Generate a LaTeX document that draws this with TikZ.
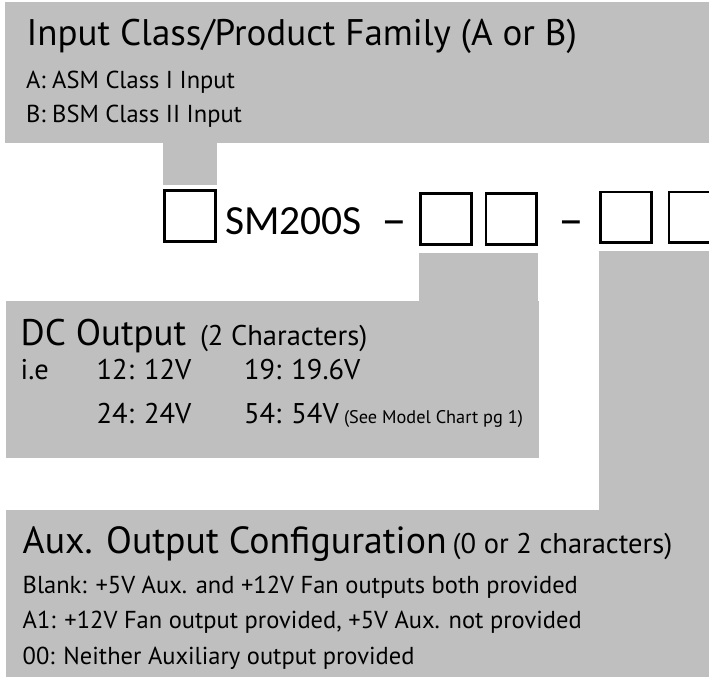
\documentclass[tikz,border=0pt]{standalone}
\usepackage{fontspec}
\setmainfont{PT Sans}
\newfontfamily\codefont{Carlito}
\definecolor{panelgray}{HTML}{BFBFBF}
\tikzset{
  panel/.style={fill=panelgray, draw=none, inner sep=0pt, outer sep=0pt, anchor=north west},
  codebox/.style={draw=black, line width=2.7pt, fill=white, minimum width=50.7pt, minimum height=50.7pt, inner sep=0pt, outer sep=0pt},
  txt/.style={anchor=base west, inner sep=0pt, outer sep=0pt},
  bigtxt/.style={txt, font=\fontsize{37}{40}\selectfont},
  midtxt/.style={txt, font=\fontsize{28.5}{30}\selectfont},
  subtxt/.style={txt, font=\fontsize{24.5}{28}\selectfont},
  smalltxt/.style={txt, font=\fontsize{18.3}{20}\selectfont},
  codetxt/.style={txt, font=\codefont\fontsize{41.5}{44}\selectfont},
  dashtxt/.style={txt, font=\fontsize{42}{44}\selectfont},
}
\begin{document}
\begin{tikzpicture}[x=1pt,y=-1pt]
\useasboundingbox (0,0) rectangle (709,677);
\clip (0,0) rectangle (709,677);
% panels
\node[panel, minimum width=704pt, minimum height=141pt] (top) at (5,1.7) {};
\node[panel, minimum width=533pt, minimum height=157.3pt] (dc) at (6,301) {};
\node[panel, minimum width=703pt, minimum height=167pt] (aux) at (6,510) {};
% code boxes
\node[codebox] (b1) at (190,215.8) {};
\node[codebox] (b2) at (446,218.8) {};
\node[codebox] (b3) at (511.3,218.8) {};
\node[codebox] (b4) at (626,217.4) {};
\node[codebox] (b5) at (694.2,217.4) {};
% connectors
\fill[panelgray] ([xshift=-1.5pt]b1.west |- top.south) rectangle ([xshift=1.5pt,yshift=5pt]b1.north east);
\fill[panelgray] ([xshift=-1.5pt]b2.west |- dc.north) rectangle ([xshift=1.5pt,yshift=-9pt]b3.south east);
\fill[panelgray] ([xshift=-1.5pt]b4.west |- aux.north) rectangle ([yshift=-8.5pt]b4.south -| top.east);
% code line
\node[codetxt] (code) at (225,234) {SM200S};
\node[dashtxt] (dash1) at (380,234) {\textendash};
\node[dashtxt] (dash2) at (557,234) {\textendash};
% top panel text
\node[bigtxt] (t1) at (26.7,45.7) {Input Class/Product Family (A or B)};
\node[subtxt] (t2) at (26,88.3) {A: ASM Class I Input};
\node[subtxt] (t3) at (26,122.7) {B: BSM Class II Input};
% dc panel text
\node[bigtxt] (d1) at (20.7,345) {DC Output};
\node[midtxt] (d2) at (200,345) {(2 Characters)};
\node[midtxt] (d3) at (20.7,379.3) {i.e};
\node[midtxt] (d4) at (96.7,379.3) {12: 12V};
\node[midtxt] (d5) at (244,379.3) {19: 19.6V};
\node[midtxt] (d6) at (96.7,423.3) {24: 24V};
\node[midtxt] (d7) at (244,423.3) {54: 54V};
\node[smalltxt] (d8) at (344,423.3) {(See Model Chart pg 1)};
% aux panel text
\node[bigtxt, font=\fontsize{37.8}{40}\selectfont] (a1) at (22.7,553.3) {Aux. Output Configuration};
\node[midtxt] (a2) at ([xshift=6pt]a1.base east) {(0 or 2 characters)};
\node[subtxt] (a3) at (22.7,593.3) {Blank: +5V Aux. and +12V Fan outputs both provided};
\node[subtxt] (a4) at (22.7,628.3) {A1: +12V Fan output provided, +5V Aux. not provided};
\node[subtxt] (a5) at (22.7,664) {00: Neither Auxiliary output provided};
\end{tikzpicture}
\end{document}
